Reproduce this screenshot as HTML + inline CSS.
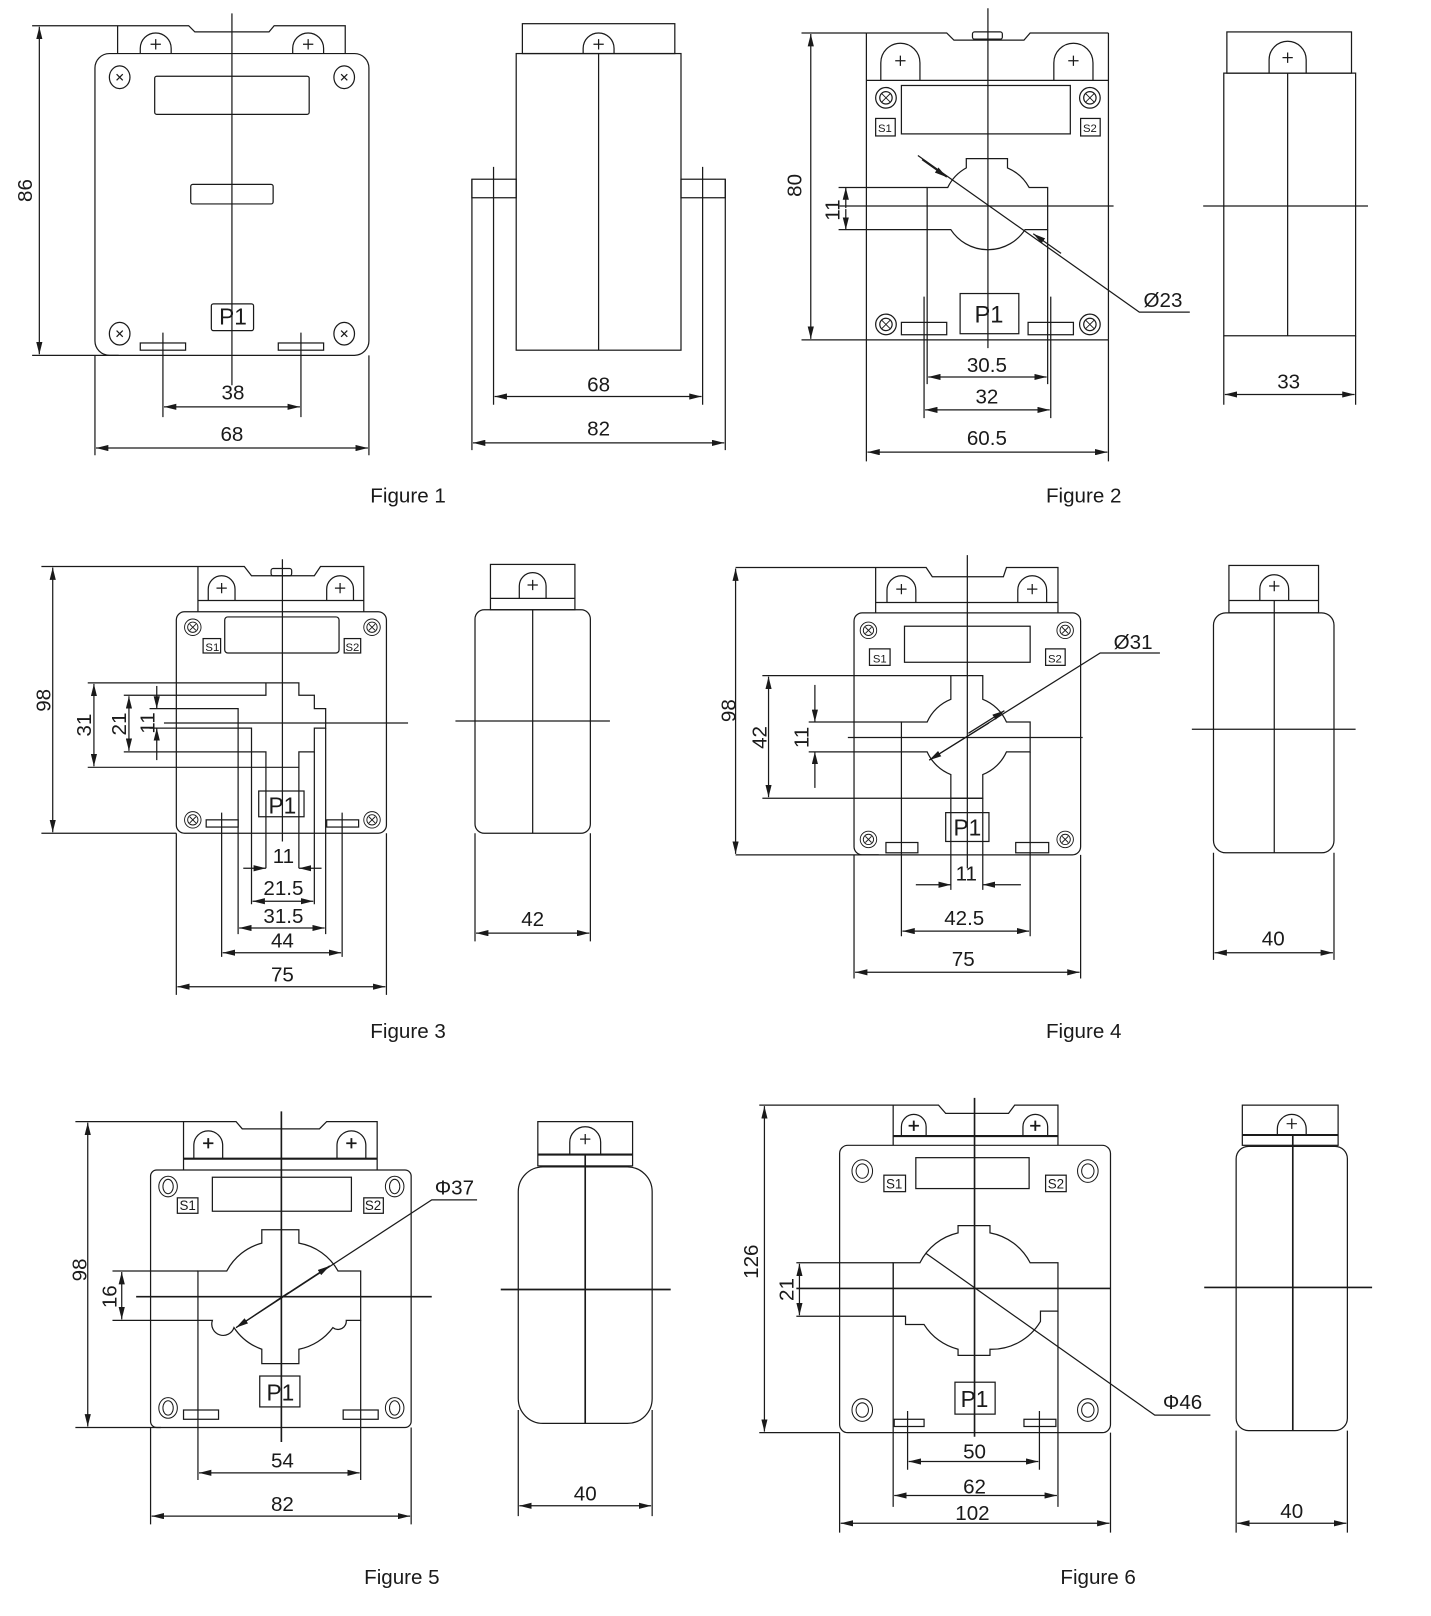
<!DOCTYPE html>
<html><head><meta charset="utf-8"><style>
html,body{margin:0;padding:0;background:#fff;}
svg{display:block;}
text{font-family:"Liberation Sans",Arial,sans-serif;fill:#1a1a1a;}
</style></head><body>
<svg width="1431" height="1616" viewBox="0 0 1389 1569" xmlns="http://www.w3.org/2000/svg">
<defs>
<marker id="a" viewBox="0 0 12 6" refX="12" refY="3" markerWidth="12" markerHeight="6" orient="auto-start-reverse" markerUnits="userSpaceOnUse"><path d="M0,0L12,3L0,6z" fill="#1a1a1a"/></marker>
</defs>
<g fill="none" stroke="#1a1a1a" stroke-width="1.2">
<!-- ================= FIGURE 1 front ================= -->
<rect x="92" y="52" width="266" height="293" rx="14"/>
<path d="M31,25H183L189,31H261L266,25H335V52M114,25V52"/>
<path d="M136,52V47A15,15 0 0 1 166,47V52M284,52V47A15,15 0 0 1 314,47V52"/>
<path d="M146,43h10M151,38v10M294,43h10M299,38v10"/>
<ellipse cx="116" cy="75" rx="10" ry="11"/><ellipse cx="334" cy="75" rx="10" ry="11"/>
<ellipse cx="116" cy="324" rx="10" ry="11"/><ellipse cx="334" cy="324" rx="10" ry="11"/>
<path d="M113,72l6,6M119,72l-6,6M331,72l6,6M337,72l-6,6M113,321l6,6M119,321l-6,6M331,321l6,6M337,321l-6,6"/>
<rect x="150" y="74" width="150" height="37" rx="2"/>
<rect x="185" y="179" width="80" height="19" rx="2"/>
<rect x="205" y="295" width="41" height="26" rx="2"/>
<rect x="136" y="333" width="44" height="7"/><rect x="270" y="333" width="44" height="7"/>
<path d="M225,13V374"/>
<path d="M158,323V405M292,323V405"/>
<path d="M159,395H291" marker-start="url(#a)" marker-end="url(#a)"/>
<path d="M92,345V442M358,345V442"/>
<path d="M93,435H357" marker-start="url(#a)" marker-end="url(#a)"/>
<path d="M38,26V344" marker-start="url(#a)" marker-end="url(#a)"/>
<path d="M31,345H115"/>
<!-- FIGURE 1 side -->
<rect x="507" y="23" width="148" height="29"/>
<rect x="501" y="52" width="160" height="288"/>
<path d="M566,52V47A15,15 0 0 1 596,47V52M576,43h10M581,38v10"/>
<path d="M581,52V340"/>
<rect x="458" y="174" width="43" height="18"/><rect x="661" y="174" width="43" height="18"/>
<path d="M479,162V393M458,174V437M682,162V393M704,174V437"/>
<path d="M480,385H681" marker-start="url(#a)" marker-end="url(#a)"/>
<path d="M459,430H703" marker-start="url(#a)" marker-end="url(#a)"/>

<!-- ================= FIGURE 2 front ================= -->
<path d="M841,32H919L926,39H994L1000,32H1076"/>
<rect x="944" y="31" width="29" height="7" rx="2"/>
<path d="M841,32V330M1076,32V330M841,78H1076M841,330H1076"/>
<path d="M855,78V61A19,19 0 0 1 893,61V78M1023,78V61A19,19 0 0 1 1061,61V78"/>
<path d="M869,59h10M874,54v10M1037,59h10M1042,54v10"/>
<circle cx="860" cy="95" r="10"/><circle cx="860" cy="95" r="6"/>
<circle cx="1058" cy="95" r="10"/><circle cx="1058" cy="95" r="6"/>
<circle cx="860" cy="315" r="10"/><circle cx="860" cy="315" r="6"/>
<circle cx="1058" cy="315" r="10"/><circle cx="1058" cy="315" r="6"/>
<path d="M856,91l8,8M864,91l-8,8M1054,91l8,8M1062,91l-8,8M856,311l8,8M864,311l-8,8M1054,311l8,8M1062,311l-8,8" stroke-width="0.9"/>
<rect x="850" y="115" width="19" height="17"/><rect x="1049" y="115" width="19" height="17"/>
<rect x="875" y="83" width="164" height="47"/>
<path d="M900,182H920A43,43 0 0 1 938,163V154H978V163A43,43 0 0 1 999,182H1017V223H995A43,43 0 0 1 923,223H900Z"/>
<path d="M900,223V373M1017,223V373M897,288V406M1020,288V406"/>
<path d="M815,200H1081M959,8V338"/>
<path d="M814,182H900M814,223H900"/>
<path d="M821,202V182" marker-end="url(#a)"/><path d="M821,203V223" marker-end="url(#a)"/>
<path d="M787,33V329" marker-start="url(#a)" marker-end="url(#a)"/>
<path d="M778,32H841M778,330H841"/>
<path d="M891,151L1106,303H1155"/>
<path d="M895,155L919,172" marker-end="url(#a)"/><path d="M1030,246L1003,227" marker-end="url(#a)"/>
<rect x="932" y="285" width="57" height="39"/>
<rect x="875" y="313" width="44" height="12"/><rect x="998" y="313" width="44" height="12"/>
<path d="M901,366H1016" marker-start="url(#a)" marker-end="url(#a)"/>
<path d="M898,398H1019" marker-start="url(#a)" marker-end="url(#a)"/>
<path d="M841,330V448M1076,330V448"/>
<path d="M842,439H1075" marker-start="url(#a)" marker-end="url(#a)"/>
<!-- FIGURE 2 side -->
<rect x="1191" y="31" width="121" height="40"/>
<rect x="1188" y="71" width="128" height="255"/>
<path d="M1232,71V58A18,18 0 0 1 1268,58V71M1245,56h10M1250,51v10"/>
<path d="M1250,71V326M1168,200H1328"/>
<path d="M1188,326V393M1316,326V393"/>
<path d="M1189,383H1315" marker-start="url(#a)" marker-end="url(#a)"/>

<!-- ================= FIGURE 3 front ================= -->
<path d="M40,550H237L244,559H305L311,550H353V594M192,550V594M192,583H353"/>
<rect x="263" y="552" width="20" height="7" rx="2"/>
<path d="M202,583V572A13,13 0 0 1 228,572V583M317,583V572A13,13 0 0 1 343,572V583"/>
<path d="M210,571h10M215,566v10M325,571h10M330,566v10"/>
<rect x="171" y="594" width="204" height="215" rx="8"/>
<g stroke-width="0.9">
<circle cx="187" cy="609" r="8"/><circle cx="187" cy="609" r="5"/><path d="M184,606l6,6M190,606l-6,6"/>
<circle cx="361" cy="609" r="8"/><circle cx="361" cy="609" r="5"/><path d="M358,606l6,6M364,606l-6,6"/>
<circle cx="187" cy="796" r="8"/><circle cx="187" cy="796" r="5"/><path d="M184,793l6,6M190,793l-6,6"/>
<circle cx="361" cy="796" r="8"/><circle cx="361" cy="796" r="5"/><path d="M358,793l6,6M364,793l-6,6"/>
</g>
<rect x="197" y="620" width="17" height="14"/><rect x="334" y="620" width="16" height="14"/>
<rect x="218" y="599" width="111" height="35" rx="3"/>
<path d="M85,663H290V675H305V688H316V707H305V730H290V745H85"/>
<path d="M120,675H258V663M145,688H231V907M145,707H244V878M120,730H258V843M290,745V843M305,730V878M316,707V907"/>
<path d="M159,702H396M274,543V817"/>
<path d="M91,664V744" marker-start="url(#a)" marker-end="url(#a)"/>
<path d="M125,676V729" marker-start="url(#a)" marker-end="url(#a)"/>
<path d="M152,666V688" marker-end="url(#a)"/><path d="M152,738V707" marker-end="url(#a)"/>
<rect x="251" y="768" width="44" height="25"/>
<rect x="200" y="796" width="31" height="7"/><rect x="317" y="796" width="31" height="7"/>
<path d="M215,789V929M332,789V929"/>
<path d="M236,843H258" marker-end="url(#a)"/><path d="M312,843H290" marker-end="url(#a)"/>
<path d="M245,875H304" marker-start="url(#a)" marker-end="url(#a)"/>
<path d="M232,901H315" marker-start="url(#a)" marker-end="url(#a)"/>
<path d="M216,925H331" marker-start="url(#a)" marker-end="url(#a)"/>
<path d="M171,809V966M375,809V966"/>
<path d="M172,958H374" marker-start="url(#a)" marker-end="url(#a)"/>
<path d="M51,551V808" marker-start="url(#a)" marker-end="url(#a)"/>
<path d="M40,809H171"/>
<!-- FIGURE 3 side -->
<rect x="476" y="548" width="82" height="44"/>
<path d="M476,581H558"/>
<path d="M504,581V569A13,13 0 0 1 530,569V581M512,568h10M517,563v10"/>
<rect x="461" y="592" width="112" height="217" rx="9"/>
<path d="M517,592V809M442,700H592"/>
<path d="M461,809V914M573,809V914"/>
<path d="M462,906H572" marker-start="url(#a)" marker-end="url(#a)"/>

<!-- ================= FIGURE 4 front ================= -->
<path d="M714,551H899L905,560H974L977,551H1027V595M850,551V595M850,585H1027"/>
<path d="M861,585V573A14,14 0 0 1 889,573V585M988,585V573A14,14 0 0 1 1016,573V585"/>
<path d="M870,572h10M875,567v10M997,572h10M1002,567v10"/>
<rect x="829" y="595" width="220" height="235" rx="8"/>
<g stroke-width="0.9">
<circle cx="843" cy="612" r="8"/><circle cx="843" cy="612" r="5"/><path d="M840,609l6,6M846,609l-6,6"/>
<circle cx="1034" cy="612" r="8"/><circle cx="1034" cy="612" r="5"/><path d="M1031,609l6,6M1037,609l-6,6"/>
<circle cx="843" cy="815" r="8"/><circle cx="843" cy="815" r="5"/><path d="M840,812l6,6M846,812l-6,6"/>
<circle cx="1034" cy="815" r="8"/><circle cx="1034" cy="815" r="5"/><path d="M1031,812l6,6M1037,812l-6,6"/>
</g>
<rect x="844" y="630" width="20" height="16"/><rect x="1015" y="630" width="19" height="16"/>
<rect x="878" y="608" width="122" height="35"/>
<path d="M875,701H900A42,42 0 0 1 923,679V656H954V679A42,42 0 0 1 977,701H1000V730H977A42,42 0 0 1 954,752V775H923V752A42,42 0 0 1 900,730H875Z"/>
<path d="M875,730V909M1000,730V909M923,775V864M954,775V864"/>
<path d="M740,656H923M740,775H954M785,701H875M785,730H875"/>
<path d="M823,716H1051M939,539V843"/>
<path d="M746,657V774" marker-start="url(#a)" marker-end="url(#a)"/>
<path d="M791,665V701" marker-end="url(#a)"/><path d="M791,765V730" marker-end="url(#a)"/>
<path d="M714,552V829" marker-start="url(#a)" marker-end="url(#a)"/>
<path d="M714,830H853"/>
<path d="M902,738L1068,634H1126"/>
<path d="M960,702L902,738" marker-end="url(#a)"/><path d="M940,712L975,690" marker-end="url(#a)"/>
<rect x="918" y="789" width="42" height="28"/>
<rect x="860" y="818" width="31" height="10"/><rect x="986" y="818" width="32" height="10"/>
<path d="M889,859H923" marker-end="url(#a)"/><path d="M991,859H954" marker-end="url(#a)"/>
<path d="M876,904H999" marker-start="url(#a)" marker-end="url(#a)"/>
<path d="M829,830V950M1049,830V950"/>
<path d="M830,944H1048" marker-start="url(#a)" marker-end="url(#a)"/>
<!-- FIGURE 4 side -->
<rect x="1193" y="549" width="87" height="46"/>
<path d="M1193,583H1280"/>
<path d="M1223,583V572A14,14 0 0 1 1251,572V583M1232,569h10M1237,564v10"/>
<rect x="1178" y="595" width="117" height="233" rx="12"/>
<path d="M1237,583V828M1157,708H1316"/>
<path d="M1178,828V932M1295,828V932"/>
<path d="M1179,925H1294" marker-start="url(#a)" marker-end="url(#a)"/>

<!-- ================= FIGURE 5 front ================= -->
<path d="M73,1089H229L235,1096H310L317,1089H366V1136M178,1089V1136"/>
<path d="M178,1125H366" stroke-width="2"/>
<path d="M188,1125V1112A14,14 0 0 1 216,1112V1125M327,1125V1112A14,14 0 0 1 355,1112V1125"/>
<path d="M197,1110h10M202,1105v10M336,1110h10M341,1105v10" stroke-width="1.8"/>
<rect x="146" y="1136" width="253" height="250" rx="6"/>
<g stroke-width="1">
<ellipse cx="163" cy="1152" rx="9" ry="10"/><ellipse cx="163" cy="1152" rx="5" ry="7"/>
<ellipse cx="383" cy="1152" rx="9" ry="10"/><ellipse cx="383" cy="1152" rx="5" ry="7"/>
<ellipse cx="163" cy="1367" rx="9" ry="10"/><ellipse cx="163" cy="1367" rx="5" ry="7"/>
<ellipse cx="383" cy="1367" rx="9" ry="10"/><ellipse cx="383" cy="1367" rx="5" ry="7"/>
</g>
<rect x="172" y="1163" width="20" height="15"/><rect x="353" y="1163" width="19" height="15"/>
<rect x="206" y="1143" width="135" height="33"/>
<path d="M192,1234H220A54,54 0 0 1 254,1207V1194H290V1207A54,54 0 0 1 328,1234H350V1282H336A8,8 0 0 1 323,1289A54,54 0 0 1 290,1310V1324H254V1310A54,54 0 0 1 227,1289A8,8 0 0 1 206,1282H192Z"/>
<path d="M192,1282V1437M350,1282V1437M109,1234H192M109,1282H192"/>
<path d="M132,1259H419M273,1079V1400" stroke-width="1.6"/>
<path d="M118,1235V1281" marker-start="url(#a)" marker-end="url(#a)"/>
<path d="M85,1090V1385" marker-start="url(#a)" marker-end="url(#a)"/>
<path d="M73,1386H156"/>
<path d="M229,1289L419,1165H463"/>
<path d="M280,1255L229,1289" marker-end="url(#a)"/><path d="M268,1263L320,1229" marker-end="url(#a)"/>
<rect x="252" y="1336" width="39" height="30"/>
<rect x="178" y="1369" width="34" height="9"/><rect x="333" y="1369" width="34" height="9"/>
<path d="M193,1430H349" marker-start="url(#a)" marker-end="url(#a)"/>
<path d="M146,1386V1480M399,1386V1480"/>
<path d="M147,1472H398" marker-start="url(#a)" marker-end="url(#a)"/>
<!-- FIGURE 5 side -->
<rect x="522" y="1089" width="92" height="43"/>
<path d="M522,1121H614" stroke-width="2"/>
<path d="M553,1121V1109A15,15 0 0 1 583,1109V1121M563,1106h10M568,1101v10" />
<rect x="503" y="1133" width="130" height="249" rx="24"/>
<path d="M568,1121V1382M486,1252H651" stroke-width="1.6"/>
<path d="M503,1369V1472M633,1369V1472"/>
<path d="M504,1462H632" marker-start="url(#a)" marker-end="url(#a)"/>

<!-- ================= FIGURE 6 front ================= -->
<path d="M737,1073H911L918,1081H979L985,1073H1027V1112M867,1073V1112"/>
<path d="M867,1103H1027" stroke-width="2"/>
<path d="M875,1103V1094A12,12 0 0 1 899,1094V1103M993,1103V1094A12,12 0 0 1 1017,1094V1103"/>
<path d="M882,1093h10M887,1088v10M1000,1093h10M1005,1088v10" stroke-width="1.8"/>
<rect x="815" y="1112" width="263" height="279" rx="8"/>
<g stroke-width="1">
<ellipse cx="837" cy="1137" rx="10" ry="11"/><ellipse cx="837" cy="1137" rx="6" ry="7"/>
<ellipse cx="1056" cy="1137" rx="10" ry="11"/><ellipse cx="1056" cy="1137" rx="6" ry="7"/>
<ellipse cx="837" cy="1369" rx="10" ry="11"/><ellipse cx="837" cy="1369" rx="6" ry="7"/>
<ellipse cx="1056" cy="1369" rx="10" ry="11"/><ellipse cx="1056" cy="1369" rx="6" ry="7"/>
</g>
<rect x="858" y="1141" width="21" height="16"/><rect x="1015" y="1141" width="20" height="16"/>
<rect x="889" y="1124" width="110" height="30"/>
<path d="M867,1226H893A55,55 0 0 1 930,1197V1190H961V1197A55,55 0 0 1 1000,1226H1027V1273H1010V1283A55,55 0 0 1 961,1310V1316H930V1310A55,55 0 0 1 897,1286H879V1278H867Z"/>
<path d="M867,1226V1463M1027,1273V1463"/>
<path d="M773,1226H867M773,1278H879"/>
<path d="M773,1251H1078M946,1066V1395" stroke-width="1.6"/>
<path d="M776,1227V1277" marker-start="url(#a)" marker-end="url(#a)"/>
<path d="M742,1074V1390" marker-start="url(#a)" marker-end="url(#a)"/>
<path d="M737,1391H815"/>
<path d="M899,1217L1121,1374H1175"/>
<rect x="927" y="1342" width="39" height="31"/>
<rect x="868" y="1378" width="29" height="7"/><rect x="994" y="1378" width="31" height="7"/>
<path d="M881,1370V1427M1009,1370V1427"/>
<path d="M882,1419H1008" marker-start="url(#a)" marker-end="url(#a)"/>
<path d="M868,1452H1026" marker-start="url(#a)" marker-end="url(#a)"/>
<path d="M815,1391V1488M1078,1391V1488"/>
<path d="M816,1479H1077" marker-start="url(#a)" marker-end="url(#a)"/>
<!-- FIGURE 6 side -->
<rect x="1206" y="1073" width="93" height="39"/>
<path d="M1206,1102H1299" stroke-width="2"/>
<path d="M1240,1102V1096A14,14 0 0 1 1268,1096V1102M1249,1091h10M1254,1086v10"/>
<rect x="1200" y="1113" width="108" height="276" rx="12"/>
<path d="M1255,1102V1389M1169,1250H1332" stroke-width="1.6"/>
<path d="M1200,1389V1488M1308,1389V1488"/>
<path d="M1201,1479H1307" marker-start="url(#a)" marker-end="url(#a)"/>
</g>

<!-- ================= TEXT ================= -->
<g font-size="20" text-anchor="middle">
<!-- fig1 -->
<text x="226" y="315" font-size="22">P1</text>
<text x="226" y="388">38</text>
<text x="225" y="428">68</text>
<text transform="translate(31,185) rotate(-90)">86</text>
<text x="581" y="380">68</text>
<text x="581" y="423">82</text>
<text x="396" y="488">Figure 1</text>
<!-- fig2 -->
<text x="859" y="128" font-size="11">S1</text>
<text x="1058" y="128" font-size="11">S2</text>
<text x="960" y="313" font-size="23">P1</text>
<text transform="translate(778,180) rotate(-90)">80</text>
<text transform="translate(815,204) rotate(-90)">11</text>
<text x="1129" y="298">Ø23</text>
<text x="958" y="361">30.5</text>
<text x="958" y="392">32</text>
<text x="958" y="432">60.5</text>
<text x="1251" y="377">33</text>
<text x="1052" y="488">Figure 2</text>
<!-- fig3 -->
<text x="206" y="632" font-size="11">S1</text>
<text x="342" y="632" font-size="11">S2</text>
<text x="274" y="790" font-size="22">P1</text>
<text transform="translate(49,680) rotate(-90)">98</text>
<text transform="translate(88,704) rotate(-90)">31</text>
<text transform="translate(122,703) rotate(-90)">21</text>
<text transform="translate(150,702) rotate(-90)">11</text>
<text x="275" y="838">11</text>
<text x="275" y="869">21.5</text>
<text x="275" y="896">31.5</text>
<text x="274" y="920">44</text>
<text x="274" y="953">75</text>
<text x="517" y="899">42</text>
<text x="396" y="1008">Figure 3</text>
<!-- fig4 -->
<text x="854" y="643" font-size="11">S1</text>
<text x="1024" y="643" font-size="11">S2</text>
<text x="939" y="811" font-size="22">P1</text>
<text transform="translate(714,690) rotate(-90)">98</text>
<text transform="translate(744,716) rotate(-90)">42</text>
<text transform="translate(785,716) rotate(-90)">11</text>
<text x="1100" y="630">Ø31</text>
<text x="938" y="855">11</text>
<text x="936" y="898">42.5</text>
<text x="935" y="938">75</text>
<text x="1236" y="918">40</text>
<text x="1052" y="1008">Figure 4</text>
<!-- fig5 -->
<text x="182" y="1175" font-size="13">S1</text>
<text x="362" y="1175" font-size="13">S2</text>
<text x="272" y="1360" font-size="22">P1</text>
<text transform="translate(84,1233) rotate(-90)">98</text>
<text transform="translate(113,1259) rotate(-90)">16</text>
<text x="441" y="1160">Φ37</text>
<text x="274" y="1425">54</text>
<text x="274" y="1467">82</text>
<text x="568" y="1457">40</text>
<text x="390" y="1538">Figure 5</text>
<!-- fig6 -->
<text x="868" y="1154" font-size="13">S1</text>
<text x="1025" y="1154" font-size="13">S2</text>
<text x="946" y="1366" font-size="22">P1</text>
<text transform="translate(736,1225) rotate(-90)">126</text>
<text transform="translate(770,1252) rotate(-90)">21</text>
<text x="1148" y="1368">Φ46</text>
<text x="946" y="1416">50</text>
<text x="946" y="1450">62</text>
<text x="944" y="1476">102</text>
<text x="1254" y="1474">40</text>
<text x="1066" y="1538">Figure 6</text>
</g>
</svg>
</body></html>
